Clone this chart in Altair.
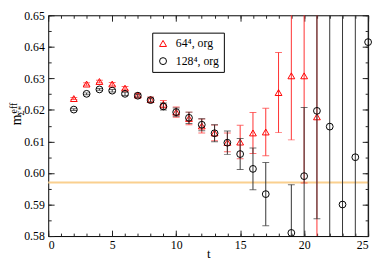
import altair as alt
import pandas as pd

# ---- data ----
series_names = ["64\u2074, org", "128\u2074, org"]

t_64 = [2, 3, 4, 5, 6, 7, 8, 9, 10, 11, 12, 13, 14, 15, 16, 17, 18, 19, 20, 21]
m_64 = [0.6236, 0.6282, 0.6290, 0.6282, 0.6269, 0.6247, 0.6233, 0.6218, 0.6193, 0.6173,
        0.6149, 0.6127, 0.6097, 0.6098, 0.6127, 0.6130, 0.6255, 0.6308, 0.6308, 0.6178]
err_64 = [0.0003, 0.0004, 0.0004, 0.0005, 0.0005, 0.0006, 0.0008, 0.0012, 0.0016, 0.0020,
          0.0022, 0.0025, 0.0030, 0.0053, 0.0065, 0.0075, 0.0127, 0.0203, 0.0340, 0.0450]

t_128 = [2, 3, 4, 5, 6, 7, 8, 9, 10, 11, 12, 13, 14, 15, 16, 17, 19, 20, 21, 22, 23, 24, 25]
m_128 = [0.6201, 0.6251, 0.6265, 0.6261, 0.6251, 0.6245, 0.6231, 0.6211, 0.6193, 0.6175,
         0.6153, 0.6126, 0.6096, 0.6060, 0.6013, 0.5933, 0.5810, 0.5990, 0.6197, 0.6147,
         0.5900, 0.6050, 0.6415]
err_128 = [0.0003, 0.0003, 0.0003, 0.0004, 0.0005, 0.0005, 0.0006, 0.0011, 0.0013, 0.0018,
           0.0019, 0.0027, 0.0037, 0.0049, 0.0066, 0.0100, 0.0153, 0.0218, 0.0342, 0.0500,
           0.0600, 0.0650, 0.0750]

ref_value = [0.597]

x_major = [0, 5, 10, 15, 20, 25]
x_minor = list(range(0, 26))
y_major = [0.58, 0.59, 0.60, 0.61, 0.62, 0.63, 0.64, 0.65]
y_minor = [round(0.58 + 0.005 * i, 3) for i in range(15)]

marker_colors = ["#ff0000", "#000000"]
bar_colors = ["#ff3030", "#333333"]
shapes = ["triangle-up", "circle"]

# ---- tables ----
d64 = pd.DataFrame({"t": t_64, "m": m_64, "e": err_64, "series": series_names[0]})
d128 = pd.DataFrame({"t": t_128, "m": m_128, "e": err_128, "series": series_names[1]})
for d in (d64, d128):
    d["lo"] = d["m"] - d["e"]
    d["hi"] = d["m"] + d["e"]
alld = pd.concat([d64, d128], ignore_index=True)

FONT = "Liberation Serif"
xs = alt.Scale(domain=[0, 25], nice=False, zero=False)
ys = alt.Scale(domain=[0.58, 0.65], nice=False, zero=False)

color_scale = alt.Scale(domain=series_names, range=marker_colors)
shape_scale = alt.Scale(domain=series_names, range=shapes)
legend = alt.Legend(
    title=None, orient="none", legendX=106, legendY=17.7,
    strokeColor="black", fillColor="white", padding=5, cornerRadius=0,
    labelFont=FONT, labelFontSize=12, labelColor="black", labelOffset=7,
    symbolSize=50, symbolStrokeWidth=1, rowPadding=6,
)

layers = []

# reference horizontal line
layers.append(
    alt.Chart(pd.DataFrame({"y": ref_value}))
    .mark_rule(color="#FAD08F", strokeWidth=2)
    .encode(y=alt.Y("y:Q", scale=ys, axis=None))
)

for d, bc, in ((d64, bar_colors[0]), (d128, bar_colors[1])):
    xenc = alt.X("t:Q", scale=xs, axis=None)
    layers.append(
        alt.Chart(d).mark_rule(color=bc, strokeWidth=1, clip=True)
        .encode(x=xenc, y=alt.Y("lo:Q", scale=ys, axis=None), y2="hi:Q")
    )
    for col in ("lo", "hi"):
        layers.append(
            alt.Chart(d).mark_tick(orient="horizontal", size=7, thickness=1, color=bc, clip=True)
            .encode(x=xenc, y=alt.Y(f"{col}:Q", scale=ys, axis=None))
        )
    layers.append(
        alt.Chart(d).mark_point(filled=False, strokeWidth=1, size=48, opacity=1)
        .encode(
            x=xenc,
            y=alt.Y("m:Q", scale=ys, axis=None),
            color=alt.Color("series:N", scale=color_scale, legend=legend),
            shape=alt.Shape("series:N", scale=shape_scale, legend=legend),
        )
    )


def axis_layer(ax_x, ax_y):
    return alt.Chart(alld).mark_point(opacity=0).encode(
        x=alt.X("t:Q", scale=xs, axis=ax_x),
        y=alt.Y("m:Q", scale=ys, axis=ax_y),
    )


def tick_axis(orient, values, size):
    return alt.Axis(orient=orient, values=values, labels=False, title=None, domain=False,
                    grid=False, ticks=True, tickSize={"expr": str(-size)},
                    tickColor="#222222", tickWidth=1)


# labels
layers.append(axis_layer(
    alt.Axis(orient="bottom", values=x_major, ticks=False, domain=False, grid=False,
             labelPadding=4, title="t", titleY=21.5, titleBaseline="alphabetic",
             titleFont=FONT, titleFontSize=13, titleFontWeight="normal", titleColor="black"),
    alt.Axis(orient="left", values=y_major, ticks=False, domain=False, grid=False,
             labelPadding=4, format=".2f", title=None),
))
layers.append(axis_layer(tick_axis("bottom", x_major, 6), tick_axis("left", y_major, 6)))
layers.append(axis_layer(tick_axis("bottom", x_minor, 3), tick_axis("left", y_minor, 3)))
layers.append(axis_layer(tick_axis("top", x_major, 6), tick_axis("right", y_major, 6)))
layers.append(axis_layer(tick_axis("top", x_minor, 3), tick_axis("right", y_minor, 3)))

# y-axis title built from pieces: m, superscript "eff", subscript "Σ*"
one = pd.DataFrame({"a": [0]})
title_parts = [("m", 14, -28, 112), ("eff", 10, -31.5, 100), ("\u03a3*", 9, -24.5, 102)]
for txt, fs, px, py in title_parts:
    layers.append(
        alt.Chart(one).mark_text(text=txt, angle=270, align="left", baseline="alphabetic",
                                 font=FONT, fontSize=fs, color="black")
        .encode(x=alt.value(px), y=alt.value(py))
    )

chart = (
    alt.layer(*layers)
    .resolve_axis(x="independent", y="independent")
    .properties(width=326, height=225, autosize=alt.AutoSizeParams(type="none"),
                padding={"left": 41, "top": 5, "right": 6, "bottom": 24})
    .configure_view(stroke="black", strokeWidth=1)
    .configure_axis(labelFont=FONT, labelFontSize=12, labelColor="black", grid=False)
)

chart.save("out.html", embed_options={"renderer": "svg", "actions": False})
